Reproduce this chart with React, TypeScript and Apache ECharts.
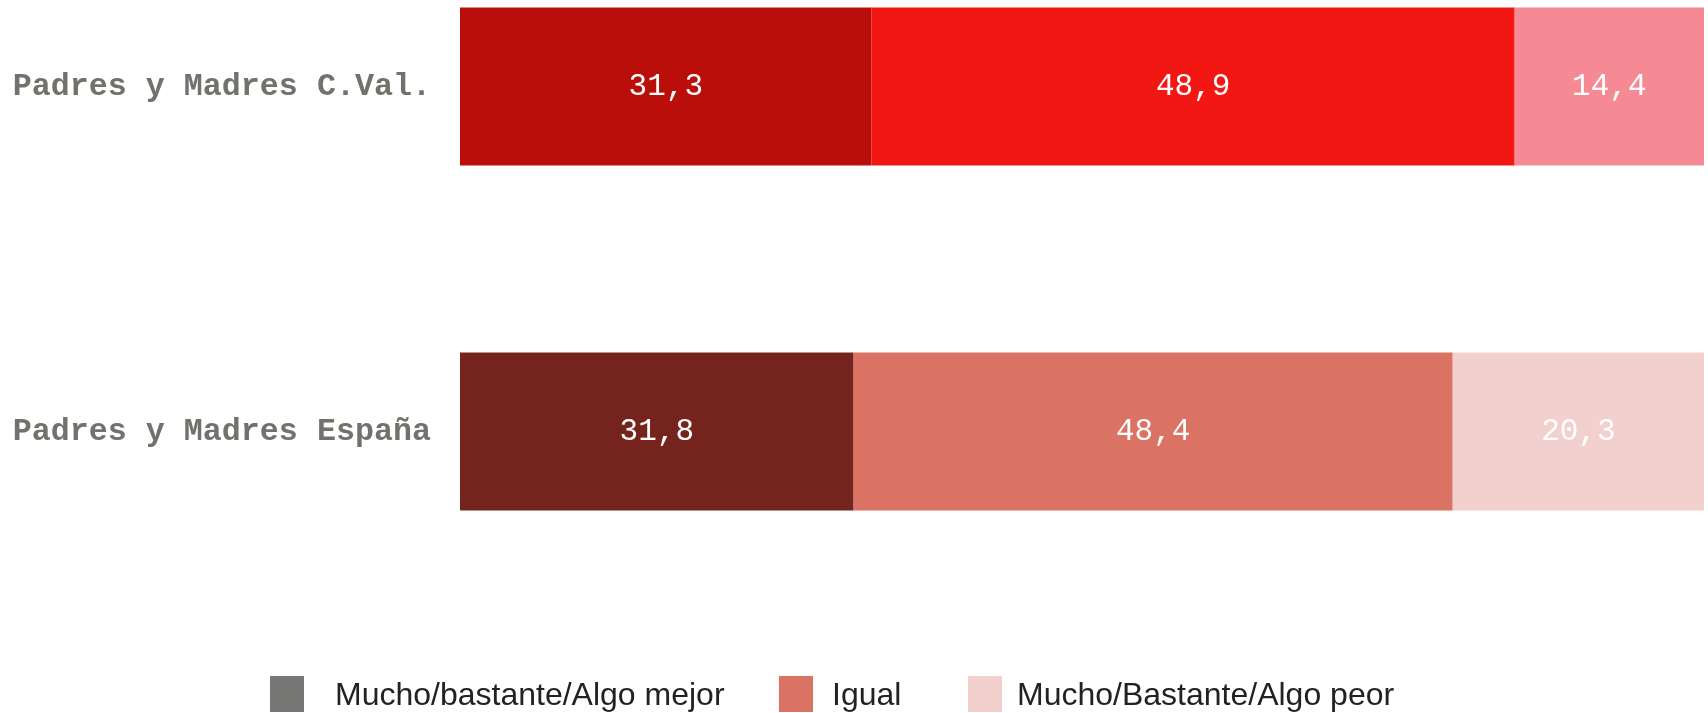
import React, { useEffect, useRef } from "react";
import * as echarts from "echarts";

const categories = ["Padres y Madres C.Val.", "Padres y Madres España"];
const seriesNames = ["Mucho/bastante/Algo mejor", "Igual", "Mucho/Bastante/Algo peor"];
const mejor = [31.3, 31.8];
const igual = [48.9, 48.4];
const peor = [14.4, 20.3];

const legendColors = ["#777776", "#DA7363", "#F2D0CD"];
const barColors = [
  ["#B90E0A", "#74241C"],
  ["#F31714", "#DA7363"],
  ["#F58A94", "#F2D0CD"],
];
const legendLefts = [265, 774, 963];
const legendTextGaps = [26, 14, 10];

export default function App() {
  const ref = useRef<HTMLDivElement>(null);
  useEffect(() => {
    if (!ref.current) return;
    const chart = echarts.init(ref.current, undefined, { renderer: "svg" });
    const raw = [mejor, igual, peor];
    const totals = categories.map((_, i) => mejor[i] + igual[i] + peor[i]);
    const fmt = (v: number) => v.toFixed(1).replace(".", ",");
    const series = raw.map((vals, s) => ({
      name: seriesNames[s],
      type: "bar",
      stack: "total",
      barWidth: 158,
      clip: false,
      itemStyle: { color: legendColors[s] },
      label: {
        show: true,
        position: "inside",
        color: "#ffffff",
        fontFamily: "'Courier New', 'Liberation Mono', monospace",
        fontSize: 31,
        fontWeight: "normal",
        formatter: (p: any) => fmt(vals[p.dataIndex]),
      },
      data: vals.map((v, i) => ({
        value: (v / totals[i]) * 100,
        itemStyle: { color: barColors[s][i] },
      })),
    }));
    chart.setOption({
      animation: false,
      grid: { left: 460, right: 4, top: 86.5, bottom: 281.5, containLabel: false },
      xAxis: { type: "value", min: 0, max: 100, show: false },
      yAxis: {
        type: "category",
        data: categories,
        inverse: true,
        boundaryGap: false,
        axisLine: { show: false },
        axisTick: { show: false },
        splitLine: { show: false },
        axisLabel: {
          margin: 29,
          color: "#72726d",
          fontFamily: "'Courier New', 'Liberation Mono', monospace",
          fontWeight: "bold",
          fontSize: 31.7,
        },
      },
      legend: seriesNames.map((n, i) => ({
        data: [n],
        left: legendLefts[i],
        top: 671,
        itemWidth: 34,
        itemHeight: 36,
        icon: "rect",
        itemStyle: { color: legendColors[i] },
        textStyle: {
          color: "#222222",
          fontFamily: "Arial, 'Liberation Sans', sans-serif",
          fontSize: 32,
          padding: [0, 0, 0, legendTextGaps[i]],
        },
        selectedMode: false,
      })),
      series,
    });
    return () => chart.dispose();
  }, []);
  return (
    <div
      ref={ref}
      style={{ position: "fixed", left: 0, top: 0, width: 1708, height: 713 }}
    />
  );
}
